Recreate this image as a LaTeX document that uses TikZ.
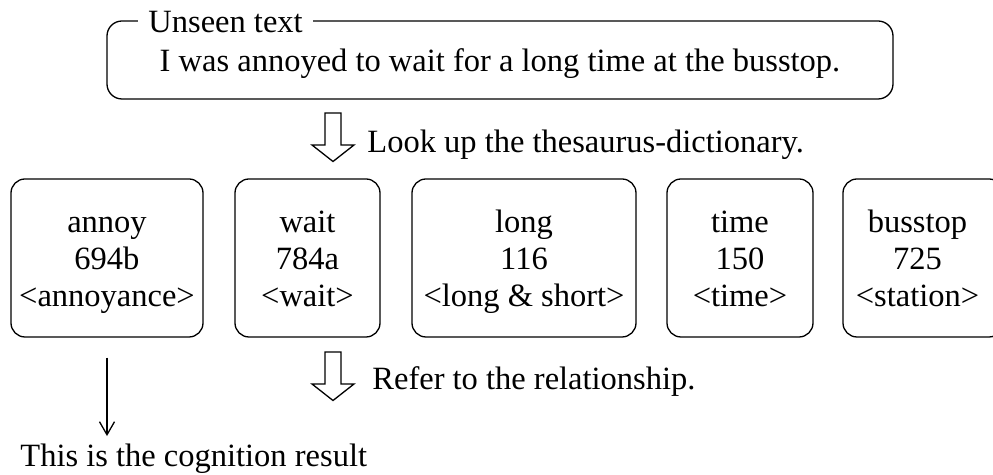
\documentclass[tikz,border=0pt]{standalone}
\usepackage{fontspec}
\setmainfont{Liberation Serif}
\usetikzlibrary{arrows.meta, positioning, calc}

\begin{document}
\fontsize{16.25pt}{18.5pt}\selectfont
\begin{tikzpicture}[x=0.5pt, y=-0.5pt,
    wordbox/.style={draw, line width=0.65pt, rounded corners=7pt, minimum height=79pt, inner sep=0pt},
    wordtext/.style={align=center, inner sep=0pt},
    plaintext/.style={anchor=base west, inner sep=0pt},
    blockarrow/.style={draw, line width=0.65pt, fill=white},
    thinarrow/.style={-{Straight Barb[length=6.5pt, width=7.5pt]}, line width=0.65pt}]
  \useasboundingbox (0,0) rectangle (993,475);
  \clip (0,0) rectangle (993,475);

  % Unseen text
  \node[draw, line width=0.65pt, rounded corners=7.5pt, minimum width=393pt, minimum height=39pt,
        text height=15pt, text depth=3pt, inner sep=0pt] (unseen) at (500,60)
    {I was annoyed to wait for a long time at the busstop.};
  \node[plaintext, fill=white, inner xsep=5pt, inner ysep=2pt] (unseenlabel) at (138,33) {Unseen text\ };

  % Hollow arrows
  \foreach \ytop in {113, 352}
    \draw[blockarrow] (325,\ytop) -- ++(16,0) -- ++(0,32) -- ++(13,0) -- ++(-21,16.5)
      -- ++(-21,-16.5) -- ++(13,0) -- cycle;
  \node[plaintext] (lookup) at (367,153) {Look up the thesaurus-dictionary.};
  \node[plaintext] (refer) at (372,390) {Refer to the relationship.};

  % Thesaurus entries
  \node[wordbox, minimum width=96pt] (annoy) at (107,258) {};
  \node[wordbox, minimum width=72.5pt] (wait) at (307.5,258) {};
  \node[wordbox, minimum width=112pt] (long) at (524,258) {};
  \node[wordbox, minimum width=73pt] (time) at (740,258) {};
  \node[wordbox, minimum width=80pt] (busstop) at (923,258) {};

  \node[wordtext] (annoytext) at ([yshift=-2.3pt]annoy.center) {\strut annoy\\\strut 694b\\\strut <annoyance>};
  \node[wordtext] (waittext) at ([yshift=-2.3pt]wait.center) {\strut wait\\\strut 784a\\\strut <wait>};
  \node[wordtext] (longtext) at ([yshift=-2.3pt]long.center) {\strut long\\\strut 116\\\strut <long \& short>};
  \node[wordtext] (timetext) at ([yshift=-2.3pt]time.center) {\strut time\\\strut 150\\\strut <time>};
  \node[wordtext] (busstoptext) at ([xshift=-2.75pt, yshift=-2.3pt]busstop.center) {\strut busstop\\\strut 725\\\strut <station>};

  % Result
  \node[plaintext] (result) at (20,467) {This is the cognition result};
  \draw[thinarrow, shorten <=10pt, shorten >=4pt] (annoy.south) -- (annoy.south |- result.north);
\end{tikzpicture}
\end{document}
